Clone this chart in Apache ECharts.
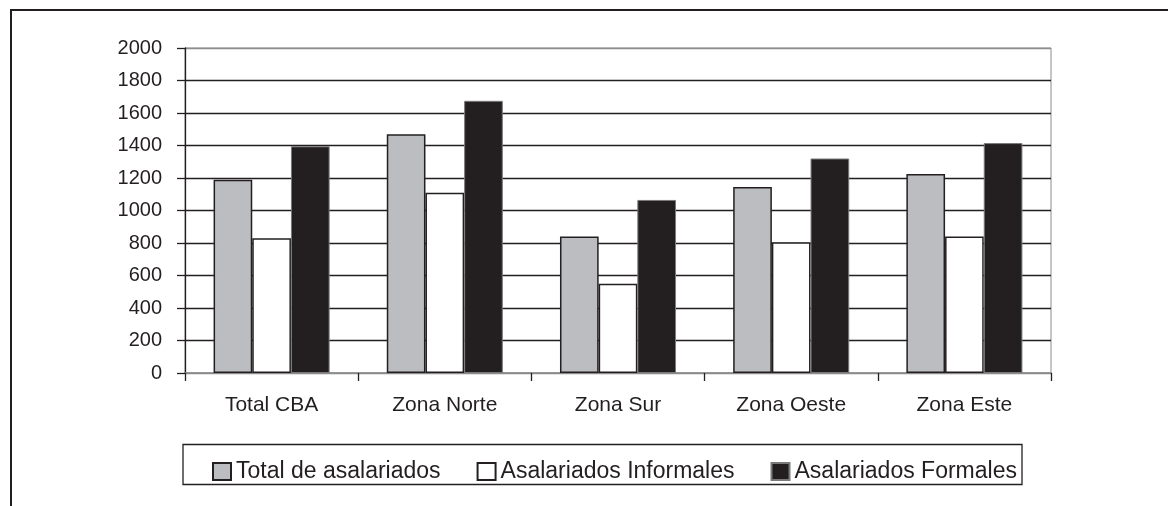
<!DOCTYPE html>
<html>
<head>
<meta charset="utf-8">
<script src="https://cdn.jsdelivr.net/npm/echarts@6/dist/echarts.min.js"></script>
<style>
  html, body { margin: 0; padding: 0; background: #ffffff; }
  #chart { width: 1168px; height: 506px; }
</style>
</head>
<body>
<div id="chart"></div>
<script>
// Zonas
const categories = ['Total CBA', 'Zona Norte', 'Zona Sur', 'Zona Oeste', 'Zona Este'];
// Series values
const totalAsalariados = [1190, 1470, 840, 1145, 1225];
const asalariadosInformales = [830, 1110, 550, 805, 840];
const asalariadosFormales = [1395, 1675, 1065, 1320, 1415];
// Y axis range
const yMin = 0;
const yMax = 2000;
const yStep = 200;

const ink = '#231f20';
const frame = '#8c8c8c';
const font = "'Liberation Sans', Arial, sans-serif";

// one colour per split line: plot frame (gray) at bottom and top, dark in between
const splitColors = [];
for (let v = yMin; v <= yMax; v += yStep) {
  splitColors.push(v === yMin || v === yMax ? frame : ink);
}

const chart = echarts.init(document.getElementById('chart'), null, { renderer: 'canvas' });

const barBase = {
  type: 'bar',
  barGap: '0%',
  barCategoryGap: '33%',
  emphasis: { disabled: true },
  animation: false
};

chart.setOption({
  backgroundColor: '#ffffff',
  animation: false,
  grid: {
    left: 185, right: 117, top: 48, bottom: 133,
    show: true, borderColor: frame, borderWidth: 1, backgroundColor: 'transparent'
  },
  legend: {
    left: 207, top: 455,
    itemWidth: 18, itemHeight: 17, itemGap: 36,
    icon: 'rect',
    textStyle: { fontFamily: font, fontSize: 23, color: ink },
    selectedMode: false
  },
  xAxis: {
    type: 'category',
    data: categories,
    boundaryGap: true,
    axisLine: { lineStyle: { color: frame, width: 1.5 } },
    axisTick: { show: true, length: 8, inside: false, lineStyle: { color: ink, width: 1.3 } },
    axisLabel: { fontFamily: font, fontSize: 21, color: ink, margin: 22 },
    splitLine: { show: false }
  },
  yAxis: {
    type: 'value',
    min: yMin, max: yMax, interval: yStep,
    axisLine: { show: true, lineStyle: { color: ink, width: 1.3 } },
    axisTick: { show: true, length: 8, lineStyle: { color: ink, width: 1.3 } },
    axisLabel: {
      fontFamily: font, fontSize: 20, color: ink, margin: 23,
      formatter: function (v) { return String(v); }
    },
    splitLine: { show: true, lineStyle: { color: splitColors, width: 1.3 } }
  },
  graphic: [
    {
      type: 'rect',
      silent: true,
      shape: { x: 11, y: 10, width: 1300, height: 700 },
      style: { fill: 'none', stroke: ink, lineWidth: 2 }
    },
    {
      type: 'rect',
      silent: true,
      shape: { x: 183, y: 444.5, width: 839, height: 40 },
      style: { fill: 'none', stroke: ink, lineWidth: 1.3 }
    }
  ],
  series: [
    Object.assign({}, barBase, {
      name: 'Total de asalariados',
      data: totalAsalariados,
      itemStyle: { color: '#bcbdc0', borderColor: ink, borderWidth: 1.5 }
    }),
    Object.assign({}, barBase, {
      name: 'Asalariados Informales',
      data: asalariadosInformales,
      itemStyle: { color: '#ffffff', borderColor: ink, borderWidth: 1.5 }
    }),
    Object.assign({}, barBase, {
      name: 'Asalariados Formales',
      data: asalariadosFormales,
      itemStyle: { color: ink, borderColor: '#7a7a7a', borderWidth: 1 }
    })
  ]
});
</script>
</body>
</html>
